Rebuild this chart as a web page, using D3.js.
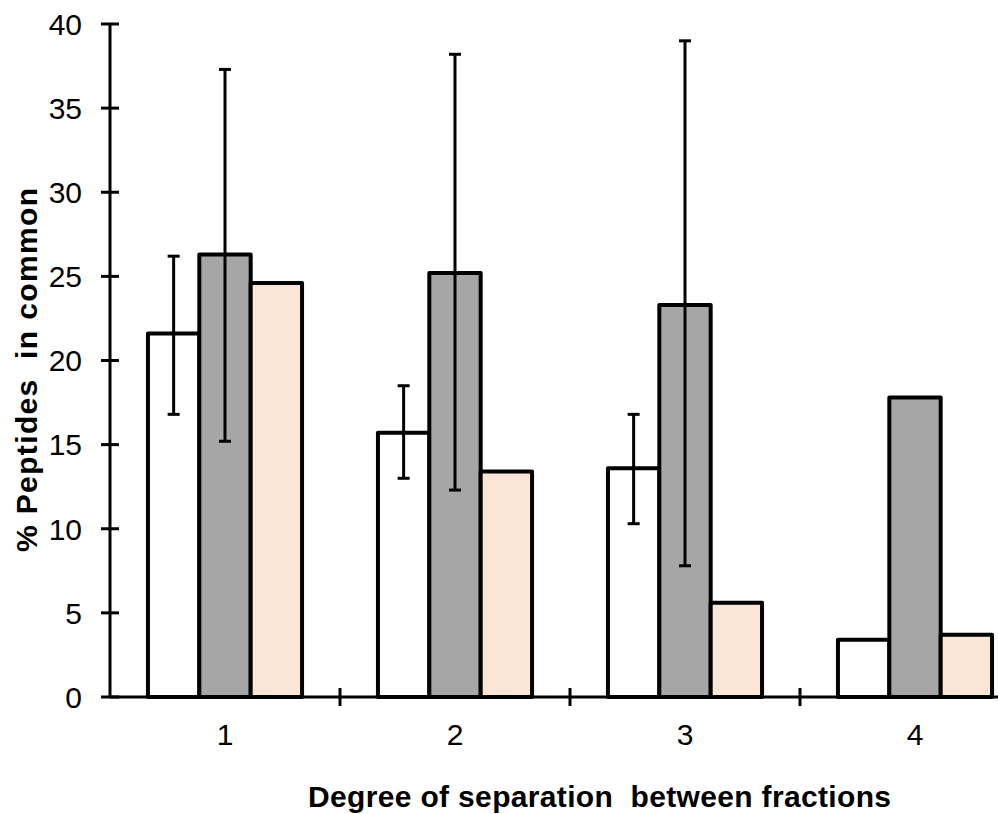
<!DOCTYPE html>
<html>
<head>
<meta charset="utf-8">
<script src="https://cdn.jsdelivr.net/npm/d3@7"></script>
<style>
  body { margin: 0; background: #fff; }
  text { font-family: "Liberation Sans", Arial, sans-serif; }
</style>
</head>
<body>
<svg id="chart" width="998" height="814"></svg>
<script>
const categories = ["1", "2", "3", "4"];
const seriesNames = ["a", "b", "c"];
const seriesA = [21.6, 15.7, 13.6, 3.4];
const seriesB = [26.3, 25.2, 23.3, 17.8];
const seriesC = [24.6, 13.4, 5.6, 3.7];
const errA = [[16.8, 26.2], [13.0, 18.5], [10.3, 16.8], null];
const errB = [[15.2, 37.3], [12.3, 38.2], [7.8, 39.0], null];
const yTicks = [0, 5, 10, 15, 20, 25, 30, 35, 40];
const colors = ["#ffffff", "#a6a6a6", "#fbe5d6"];

const svg = d3.select("#chart");
const margins = { left: 110, top: 24, right: -32, bottom: 117 };
const chartWidth = svg.attr("width") - margins.left - margins.right;
const chartHeight = svg.attr("height") - margins.top - margins.bottom;

const chartArea = svg.append("g")
  .attr("transform", `translate(${margins.left},${margins.top})`);

const xScale = d3.scaleBand().domain(categories).range([0, chartWidth]);
const groupWidth = xScale.bandwidth() * 0.67;
const x1 = d3.scaleBand().domain(seriesNames).range([0, groupWidth]);
const groupOffset = (xScale.bandwidth() - groupWidth) / 2;
const yScale = d3.scaleLinear().domain([0, 40]).range([chartHeight, 0]);

const values = [seriesA, seriesB, seriesC];
const errs = [errA, errB, null];

// bars
seriesNames.forEach((s, si) => {
  chartArea.append("g")
    .selectAll("rect")
    .data(categories)
    .join("rect")
    .attr("x", c => xScale(c) + groupOffset + x1(s))
    .attr("y", (c, i) => yScale(values[si][i]))
    .attr("width", x1.bandwidth())
    .attr("height", (c, i) => yScale(0) - yScale(values[si][i]))
    .attr("fill", colors[si])
    .attr("stroke", "#000")
    .attr("stroke-width", 4)
    .attr("stroke-linejoin", "round");
});

// error bars
errs.forEach((e, si) => {
  if (!e) return;
  categories.forEach((c, i) => {
    if (!e[i]) return;
    const cx = xScale(c) + groupOffset + x1(seriesNames[si]) + x1.bandwidth() / 2;
    const g = chartArea.append("g").attr("stroke", "#000").attr("stroke-width", 3);
    g.append("line").attr("x1", cx).attr("x2", cx)
      .attr("y1", yScale(e[i][0])).attr("y2", yScale(e[i][1]));
    [0, 1].forEach(k => {
      g.append("line").attr("x1", cx - 6).attr("x2", cx + 6)
        .attr("y1", yScale(e[i][k])).attr("y2", yScale(e[i][k]));
    });
  });
});

// y axis
const yAxis = chartArea.append("g");
yAxis.append("line").attr("x1", 0).attr("x2", 0)
  .attr("y1", yScale(0)).attr("y2", yScale(40))
  .attr("stroke", "#000").attr("stroke-width", 3);
yTicks.forEach(t => {
  yAxis.append("line").attr("x1", -9).attr("x2", 9)
    .attr("y1", yScale(t)).attr("y2", yScale(t))
    .attr("stroke", "#000").attr("stroke-width", 3);
  yAxis.append("text").attr("x", -28).attr("y", yScale(t))
    .attr("dy", "0.36em").attr("text-anchor", "end")
    .attr("font-size", 30).attr("fill", "#000").text(t);
});

// x axis
const xAxis = chartArea.append("g");
xAxis.append("line").attr("x1", 0).attr("x2", chartWidth)
  .attr("y1", yScale(0)).attr("y2", yScale(0))
  .attr("stroke", "#000").attr("stroke-width", 3);
categories.forEach(c => {
  const bx = xScale(c) + xScale.bandwidth();
  xAxis.append("line").attr("x1", bx).attr("x2", bx)
    .attr("y1", yScale(0) - 9).attr("y2", yScale(0) + 9)
    .attr("stroke", "#000").attr("stroke-width", 3);
  xAxis.append("text").attr("x", xScale(c) + xScale.bandwidth() / 2)
    .attr("y", yScale(0) + 48).attr("text-anchor", "middle")
    .attr("font-size", 30).attr("fill", "#000").text(c);
});

// titles
svg.append("text")
  .attr("x", 308).attr("y", 807)
  .attr("font-size", 30).attr("font-weight", "bold")
  .attr("textLength", 583).attr("lengthAdjust", "spacing")
  .style("white-space", "pre")
  .text("Degree of separation  between fractions");

svg.append("text")
  .attr("transform", "translate(37,552) rotate(-90)")
  .attr("font-size", 30).attr("font-weight", "bold")
  .attr("textLength", 364).attr("lengthAdjust", "spacing")
  .style("white-space", "pre")
  .text("% Peptides  in common");
</script>
</body>
</html>
